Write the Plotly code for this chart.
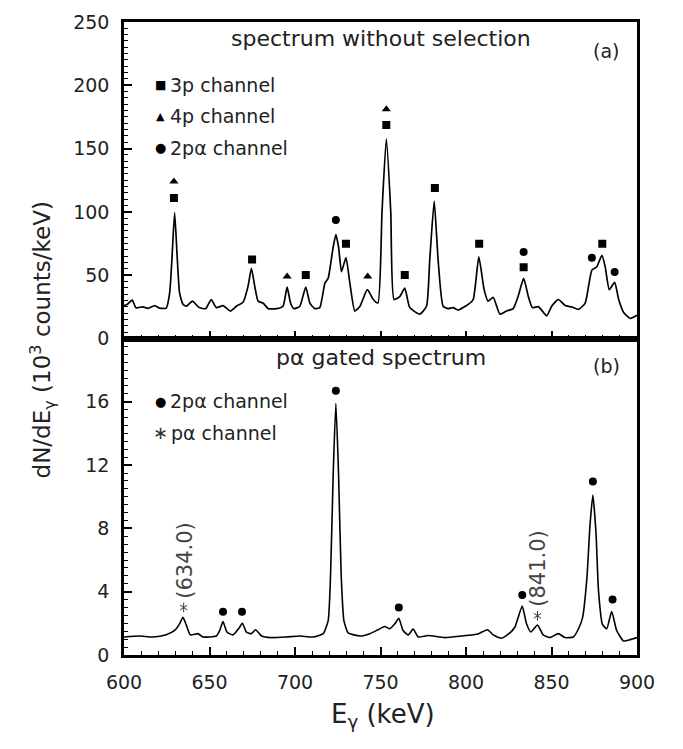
import plotly.graph_objects as go

# ---------------- data ----------------
top_x = [600, 602, 604.8, 607, 611, 614, 618, 620.8, 624.7, 626.7, 628, 629.6, 631, 632.5, 634.5,
         636.5, 640, 644, 647.8, 651, 654, 657.9, 662.2, 665.7, 669.6, 672.5, 674.5, 676.5, 678.4,
         681.3, 684.3, 689.2, 693, 695.4, 697.4, 699.3, 702.8, 706.3, 708.7, 711.6, 714.5, 717.5,
         719.4, 722.3, 723.9, 725.5, 727.2, 729.8, 732.1, 735, 738, 742.3, 745.8, 748.5, 750.9,
         753.4, 756, 757.9, 761.2, 764.2, 767.1, 773, 776.9, 778.8, 781.4, 783.7, 786.6, 789.5,
         792.5, 795.4, 801.3, 804.2, 807.5, 810.6, 812.9, 815.9, 819.8, 823.7, 827.6, 830.5, 833.7,
         836.4, 838.8, 842.3, 847.2, 850.1, 854, 858, 861.9, 865.8, 869.7, 873.6, 876.5, 879.5,
         881.4, 883.8, 886.9, 889.3, 892.2, 896.1, 900]
top_y = [26, 27, 30.3, 24.3, 25, 23.8, 26, 24, 24, 36, 62, 99.4, 67, 36, 27,
         25.5, 29.5, 24.4, 23.6, 30.8, 24.4, 26, 21.7, 25.5, 28.7, 41, 55.4, 41, 29.5,
         28, 23.6, 23.6, 25.5, 40.6, 28, 23.6, 25.5, 40.6, 28, 23.6, 24.4, 43.7,
         47.6, 72, 82, 72, 52.8, 63.9, 43.7, 21.7, 25.5, 38.6, 30.8, 28, 100.7,
         157.6, 100, 30.8, 33, 39.8, 24.4, 19.2, 25.5, 62, 108.5, 62, 25.5, 23.6,
         24.4, 22.5, 27, 30.8, 64.4, 38.6, 29.5, 32.6, 19.2, 21.7, 23.6, 33.4, 47.6,
         33.4, 24.4, 25.2, 17.9, 25.5, 30.8, 26, 24.9, 23, 28, 54, 56.7, 65.7,
         56.7, 38.6, 44.3, 30.8, 20.5, 15.8, 18.3]

bot_x = [600, 609, 616.9, 624.7, 629.6, 632.5, 634.5, 636.4, 638.8, 643.2, 646.2, 654, 656, 657.9,
         660.2, 663.7, 667.3, 669.2, 671.6, 674.5, 677, 680.4, 686.2, 695, 702.8, 710.6, 716.5,
         719.4, 720.8, 722.3, 723.9, 725.5, 727, 728.6, 731.1, 738, 743.8, 748.6, 752.5, 755.4,
         758.4, 760.7, 763.2, 766.2, 769.1, 772, 777.8, 787.6, 797.3, 807.1, 812.6, 815.9, 820.8,
         825.7, 828.6, 830.5, 832.9, 835.4, 837.9, 841.8, 845.1, 849.1, 854, 857.9, 862.8, 865.8,
         868.2, 870.7, 872.5, 874.2, 876, 877.5, 879.8, 882.3, 885.2, 888.1, 892.1, 896, 900]
bot_y = [1.14, 1.2, 1.14, 1.28, 1.55, 1.97, 2.38, 1.9, 1.27, 1.35, 1.14, 1.2, 1.55, 2.11,
         1.45, 1.27, 1.7, 2.01, 1.45, 1.35, 1.6, 1.2, 1.1, 1.14, 1.2, 1.14, 1.35,
         2.17, 5.07, 11.3, 15.9, 11.3, 5.07, 2.17, 1.4, 1.2, 1.35, 1.6, 1.8, 1.66,
         1.97, 2.32, 1.55, 1.27, 1.64, 1.14, 1.23, 1.1, 1.2, 1.33, 1.6, 1.27, 1.06,
         1.4, 1.77, 2.38, 3.1, 1.97, 1.45, 1.9, 1.27, 1.1, 1.35, 1.1, 1.14, 1.66,
         2.38, 4.86, 8.18, 10.1, 7.76, 4.04, 1.93, 1.66, 2.75, 1.55, 0.89, 0.97, 1.1]

# peak markers, panel (a)
sq_x = [629.2, 674.9, 706.3, 729.8, 753.4, 764.2, 781.8, 807.7, 833.7, 879.7]
sq_y = [111, 62.4, 50.2, 74.8, 168.7, 50.2, 118.8, 74.8, 56.2, 74.8]
tri_x = [629.2, 695.4, 742.5, 753.4]
tri_y = [124, 49, 49, 181]
circa_x = [723.9, 833.7, 873.6, 886.9]
circa_y = [93.7, 68.3, 63.7, 52.5]
# peak markers, panel (b)
circb_x = [657.9, 669.0, 723.9, 760.7, 832.9, 874.2, 885.7]
circb_y = [2.73, 2.73, 16.7, 3.0, 3.79, 10.97, 3.5]
ast_x = [634.9, 841.8]
ast_y = [3.0, 2.48]
ast_labels = ["(634.0)", "(841.0)"]

x_ticks = [600, 650, 700, 750, 800, 850, 900]
ya_ticks = [0, 50, 100, 150, 200, 250]
ya_mid = [25, 75, 125, 175, 225]
yb_ticks = [0, 4, 8, 12, 16]
yb_mid = [2, 6, 10, 14, 18, 20]

FONT = "DejaVu Sans"
TXT = "#222222"

fig = go.Figure()
fig.add_trace(go.Scatter(x=top_x, y=top_y, mode="lines", xaxis="x", yaxis="y",
                         line=dict(color="black", width=1.7, shape="spline", smoothing=0.5)))
fig.add_trace(go.Scatter(x=bot_x, y=bot_y, mode="lines", xaxis="x2", yaxis="y2",
                         line=dict(color="black", width=1.6, shape="spline", smoothing=0.5)))

mk = dict(color="black", size=8)
fig.add_trace(go.Scatter(x=sq_x, y=sq_y, mode="markers", xaxis="x", yaxis="y",
                         marker=dict(symbol="square", **mk)))
fig.add_trace(go.Scatter(x=tri_x, y=tri_y, mode="markers", xaxis="x", yaxis="y",
                         marker=dict(symbol="triangle-up", **mk)))
fig.add_trace(go.Scatter(x=circa_x, y=circa_y, mode="markers", xaxis="x", yaxis="y",
                         marker=dict(symbol="circle", **mk)))
fig.add_trace(go.Scatter(x=circb_x, y=circb_y, mode="markers", xaxis="x2", yaxis="y2",
                         marker=dict(symbol="circle", **mk)))
for sym in ["y-up-open", "y-down-open"]:
    fig.add_trace(go.Scatter(x=ast_x, y=ast_y, mode="markers", xaxis="x2", yaxis="y2",
                             marker=dict(symbol=sym, size=6, color="#333",
                                         line=dict(color="#333", width=1))))

ann = []
for xv, yv, t in zip(ast_x, ast_y, ast_labels):
    ann.append(dict(x=xv, y=yv, xref="x2", yref="y2", text=t, textangle=-90, showarrow=False,
                    xanchor="center", yanchor="bottom", yshift=7, xshift=1,
                    font=dict(family=FONT, size=21, color="#444")))

def px2paper(px, py):
    return (px - 124) / 513.0, (655 - py) / 644.0

def txt(px, py, text, size, xanchor="left", angle=0, color=TXT):
    xp, yp = px2paper(px, py)
    ann.append(dict(x=xp, y=yp, xref="paper", yref="paper", text=text, showarrow=False,
                    xanchor=xanchor, yanchor="middle", textangle=angle,
                    font=dict(family=FONT, size=size, color=color)))

# titles and panel labels
txt(381, 28, "spectrum without selection", 22, "center")
txt(606, 40, "(a)", 19, "center")
txt(381, 352, "p\u03b1 gated spectrum", 22, "center")
txt(606, 361, "(b)", 19, "center")
# legend entries
txt(160, 75, "\u25a0", 12, "center", color="black")
txt(168, 75, "3p channel", 19)
txt(160, 107, "\u25b2", 11, "center", color="black")
txt(168, 107, "4p channel", 19)
txt(160, 139, "\u25cf", 13, "center", color="black")
txt(168, 139, "2p\u03b1 channel", 19)
txt(160, 397, "\u25cf", 13, "center", color="black")
txt(168, 397, "2p\u03b1 channel", 19)
txt(160, 429, "\u2217", 18, "center", color="#333")
txt(169, 429, "p\u03b1 channel", 19)
# axis titles
txt(383, 717, "E<sub>\u03b3</sub> (keV)", 26, "center")
txt(42, 335, "dN/dE<sub>\u03b3</sub> (10<sup>3</sup> counts/keV)", 23, "center", angle=-90)

axis_common = dict(showline=True, linewidth=2.5, linecolor="black", mirror=True,
                   ticks="inside", tickcolor="black", tickwidth=1.5, showgrid=False,
                   zeroline=False)
mid_axis = dict(showline=False, ticks="inside", tickcolor="black", tickwidth=1.5, ticklen=8,
                showticklabels=False, showgrid=False, zeroline=False, tickmode="array")
fig.update_layout(
    width=683, height=749,
    margin=dict(l=124, r=46, t=11, b=94),
    paper_bgcolor="white", plot_bgcolor="white",
    showlegend=False,
    font=dict(family=FONT, size=19, color=TXT),
    xaxis=dict(domain=[0, 1], range=[600, 900], anchor="y", tickmode="array", tickvals=x_ticks,
               showticklabels=False, ticklen=8,
               minor=dict(tickmode="linear", tick0=600, dtick=10, ticklen=4, ticks="inside",
                          tickcolor="black", tickwidth=1), **axis_common),
    yaxis=dict(domain=[0.5, 1], range=[0, 250], anchor="x", tickmode="array", tickvals=ya_ticks,
               ticktext=[str(v) for v in ya_ticks], ticklen=8, ticklabelstandoff=8,
               tickfont=dict(family=FONT, size=19, color=TXT),
               minor=dict(tickmode="linear", tick0=0, dtick=5, ticklen=4, ticks="inside",
                          tickcolor="black", tickwidth=1), **axis_common),
    yaxis3=dict(domain=[0.5, 1], range=[0, 250], anchor="x", overlaying="y", side="left",
                tickvals=ya_mid, **mid_axis),
    xaxis2=dict(domain=[0, 1], range=[600, 900], anchor="y2", tickmode="array", tickvals=x_ticks,
                ticktext=[str(v) for v in x_ticks], ticklen=8, ticklabelstandoff=8,
                tickfont=dict(family=FONT, size=19, color=TXT),
                minor=dict(tickmode="linear", tick0=600, dtick=10, ticklen=4, ticks="inside",
                           tickcolor="black", tickwidth=1), **axis_common),
    yaxis2=dict(domain=[0, 0.5], range=[0, 20], anchor="x2", tickmode="array", tickvals=yb_ticks,
                ticktext=[str(v) for v in yb_ticks], ticklen=8, ticklabelstandoff=8,
                tickfont=dict(family=FONT, size=19, color=TXT),
                minor=dict(tickmode="linear", tick0=0, dtick=0.5, ticklen=4, ticks="inside",
                           tickcolor="black", tickwidth=1), **axis_common),
    yaxis4=dict(domain=[0, 0.5], range=[0, 20], anchor="x2", overlaying="y2", side="left",
                tickvals=yb_mid, **mid_axis),
    annotations=ann,
)

fig.write_html("out.html")
